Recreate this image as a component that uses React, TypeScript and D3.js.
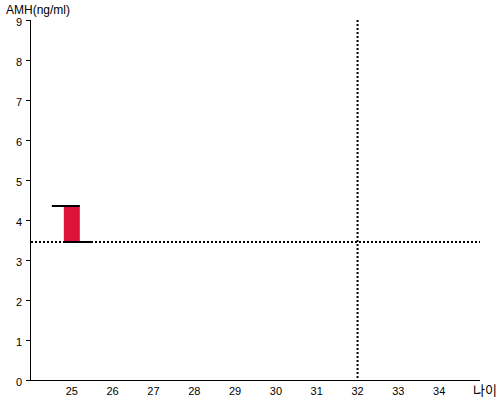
import React from "react";
import * as d3 from "d3";

const xTicks = [25, 26, 27, 28, 29, 30, 31, 32, 33, 34];
const yTicks = [0, 1, 2, 3, 4, 5, 6, 7, 8, 9];
const barAge = [25];
const barLow = [3.45];
const barHigh = [4.35];
const refAge = 32;
const refAmh = 3.45;
const yTitle = "AMH(ng/ml)";
const xTitle = "나이";

export default function App() {
  const W = 500, H = 400;
  const x = d3.scaleLinear().domain([24, 35]).range([31, 480]);
  const y = d3.scaleLinear().domain([0, 9]).range([380, 20]);
  const font = "Arial, 'Liberation Sans', sans-serif";
  return (
    <svg width={W} height={H} style={{ position: "absolute", left: 0, top: 0 }}>
      <rect width={W} height={H} fill="#fff" />
      {/* axes */}
      <line x1={30.5} x2={30.5} y1={y(9)} y2={380.5} stroke="#000" />
      <line x1={30} x2={480} y1={380.5} y2={380.5} stroke="#000" />
      {yTicks.map((t) => (
        <g key={t}>
          <line x1={26} x2={30} y1={Math.round(y(t)) + 0.5} y2={Math.round(y(t)) + 0.5} stroke="#000" />
          <text x={22} y={y(t) + 2.5} dy="0.35em" textAnchor="end" fontSize={11} fontFamily={font} fill="#000">{t}</text>
        </g>
      ))}
      {xTicks.map((t) => (
        <text key={t} x={x(t)} y={391} dy="0.35em" textAnchor="middle" fontSize={11} fontFamily={font} fill="#000">{t}</text>
      ))}
      <text x={6} y={14} fontSize={12} fontFamily={font} fill="#000">{yTitle}</text>
      <text x={473} y={395} fontSize={13} fontFamily="'Noto Sans CJK KR', sans-serif" fill="#000">{xTitle}</text>
      {/* reference lines */}
      <line x1={31} x2={480} y1={y(refAmh)} y2={y(refAmh)} stroke="#000" strokeWidth={2} strokeDasharray="2,2" />
      <line x1={x(refAge)} x2={x(refAge)} y1={y(9)} y2={380} stroke="#000" strokeWidth={2} strokeDasharray="2,2" />
      {/* bar */}
      {barAge.map((a, i) => {
        const cx = x(a);
        return (
          <g key={i}>
            <rect x={cx - 8} y={y(barHigh[i])} width={16} height={y(barLow[i]) - y(barHigh[i])} fill="#DC143C" />
            <line x1={cx - 20} x2={cx + 8} y1={y(barHigh[i])} y2={y(barHigh[i])} stroke="#000" strokeWidth={2} />
            <line x1={cx - 8} x2={cx + 20} y1={y(barLow[i])} y2={y(barLow[i])} stroke="#000" strokeWidth={2} />
          </g>
        );
      })}
    </svg>
  );
}
